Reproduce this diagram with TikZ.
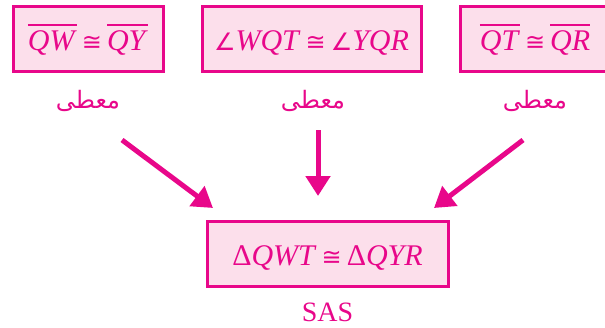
\documentclass[tikz,border=0pt]{standalone}
\usepackage{fontspec}
\usetikzlibrary{arrows.meta}
\newfontfamily\arabicfont[Script=Arabic]{DejaVu Sans}
\newfontfamily\symfont{DejaVu Sans}
\setmainfont{Liberation Serif}
\TeXXeTstate=1
\definecolor{mag}{HTML}{E8078A}
\definecolor{pinkfill}{HTML}{FCDFEB}
\newcommand{\segm}[1]{\leavevmode\vbox{\hrule height 1.6pt\kern 5pt\hbox{\itshape #1\/}}}
\newcommand{\cng}{\,{\symfont\fontsize{24}{28}\selectfont ≅}\,}
\newcommand{\ang}{{\symfont\fontsize{24}{28}\selectfont ∠}}
\begin{document}
\begin{tikzpicture}[x=1pt,y=-1pt,
  stmt/.style={draw=mag,fill=pinkfill,line width=3pt,minimum height=65pt,inner sep=0pt,text height=24pt,text depth=0pt,text=mag,font=\fontsize{30}{34}\selectfont},
  given/.style={text=mag,font=\arabicfont\fontsize{24}{28}\selectfont},
  arr/.style={draw=mag,line width=5pt,-{Triangle[width=24pt,length=20pt]}}]
\useasboundingbox (0,0) rectangle (605,327);
\node[stmt,minimum width=150pt] (b1) at (88,38.5) {\segm{QW}\cng\segm{QY}};
\node[stmt,minimum width=219pt] (b2) at (311.5,38.5) {\ang\textit{WQT}\cng\ang\textit{YQR}};
\node[stmt,minimum width=150pt] (b3) at (535,38.5) {\segm{QT}\cng\segm{QR}};
\node[given] (g1) at (88,101) {\beginR معطى\endR};
\node[given] (g2) at (313,101) {\beginR معطى\endR};
\node[given] (g3) at (535,101) {\beginR معطى\endR};
\node[stmt,minimum width=241pt] (res) at (327.5,253.5) {Δ\textit{QWT}\cng Δ\textit{QYR}};
\node[text=mag,font=\fontsize{28}{32}\selectfont] (sas) at (327.5,312) {SAS};
\coordinate (s1) at (122,140);
\coordinate (e1) at (213,208);
\coordinate (s2) at (318,130);
\coordinate (e2) at (318,196);
\coordinate (s3) at (523,140);
\coordinate (e3) at (434,208);
\draw[arr] (s1) -- (e1);
\draw[arr] (s2) -- (e2);
\draw[arr] (s3) -- (e3);
\end{tikzpicture}
\end{document}
